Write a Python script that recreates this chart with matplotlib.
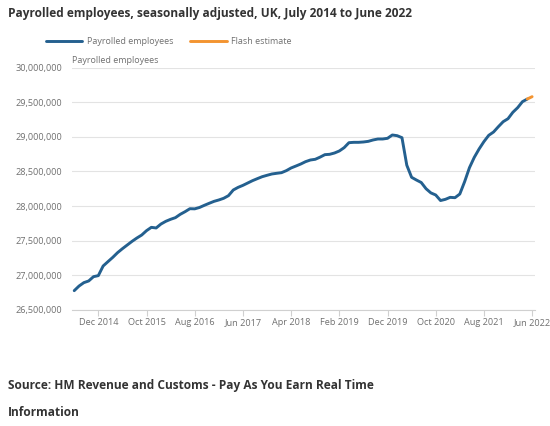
import matplotlib.pyplot as plt

# monthly payrolled employees, Jul 2014 .. Jun 2022 (millions)
payrolled = [
    26.779, 26.846, 26.895, 26.919, 26.981, 26.996, 27.135, 27.198, 27.260, 27.328,
    27.385, 27.438, 27.491, 27.539, 27.582, 27.645, 27.693, 27.684, 27.741, 27.780,
    27.809, 27.833, 27.881, 27.919, 27.962, 27.960, 27.980, 28.011, 28.040, 28.068,
    28.088, 28.112, 28.150, 28.232, 28.270, 28.299, 28.333, 28.367, 28.396, 28.424,
    28.444, 28.463, 28.473, 28.482, 28.511, 28.550, 28.578, 28.607, 28.641, 28.665,
    28.675, 28.706, 28.742, 28.747, 28.766, 28.795, 28.843, 28.915, 28.920, 28.920,
    28.925, 28.934, 28.954, 28.968, 28.968, 28.978, 29.026, 29.016, 28.987, 28.590,
    28.415, 28.376, 28.340, 28.250, 28.190, 28.160, 28.080, 28.097, 28.126, 28.121,
    28.174, 28.352, 28.554, 28.703, 28.824, 28.930, 29.021, 29.069, 29.146, 29.218,
    29.261, 29.353, 29.420, 29.507, 29.545,
]
flash = [29.545, 29.579]  # May 2022 -> Jun 2022 flash estimate

tick_idx = [5, 15, 25, 35, 45, 55, 65, 75, 85, 95]
tick_lbl = ['Dec 2014', 'Oct 2015', 'Aug 2016', 'Jun 2017', 'Apr 2018',
            'Feb 2019', 'Dec 2019', 'Oct 2020', 'Aug 2021', 'Jun 2022']
y_ticks = [26.5, 27.0, 27.5, 28.0, 28.5, 29.0, 29.5, 30.0]

blue = '#24608f'
orange = '#f39431'
grey = '#707070'

plt.rcParams['font.family'] = ['Open Sans', 'DejaVu Sans']

fig = plt.figure(figsize=(5.5, 4.26), dpi=100)
ax = fig.add_axes([72/550, 1 - 310/426, (535 - 72)/550, (310 - 67.5)/426])

x = list(range(len(payrolled)))
ax.plot(x, [v * 1e6 for v in payrolled], color=blue, lw=2.1, solid_capstyle='round',
        label='Payrolled employees')
ax.plot([len(payrolled) - 1, len(payrolled)], [v * 1e6 for v in flash], color=orange,
        lw=2.1, solid_capstyle='round', label='Flash estimate')

ax.set_xlim(-0.46, 95.6)
ax.set_ylim(26.5e6, 30e6)
ax.set_yticks([v * 1e6 for v in y_ticks])
ax.set_yticklabels(['{:,}'.format(int(round(v * 1e6))) for v in y_ticks])
ax.set_xticks(tick_idx)
ax.set_xticklabels(tick_lbl)

ax.grid(axis='y', color='#e3e3e3', lw=0.8)
ax.set_axisbelow(True)
for s in ['top', 'right', 'left']:
    ax.spines[s].set_visible(False)
ax.spines['bottom'].set_color('#d0d0d0')
ax.spines['bottom'].set_linewidth(0.8)
ax.tick_params(axis='y', length=0, pad=7, labelsize=6.6, labelcolor=grey)
ax.tick_params(axis='x', length=4, color='#d0d0d0', width=0.8, pad=2,
               labelsize=6.6, labelcolor=grey)

ax.text(0.0, 1.012, 'Payrolled employees', transform=ax.transAxes,
        fontsize=6.5, color=grey, ha='left', va='bottom')

fig.text(8/550, 1 - 13/426, 'Payrolled employees, seasonally adjusted, UK, July 2014 to June 2022',
         fontsize=8.6, fontweight='bold', color='#333333', ha='left', va='center')

leg = fig.legend(loc='center left', bbox_to_anchor=(38/550, 1 - 42/426), ncol=2,
                 frameon=False, fontsize=6.5, handlelength=4.0, columnspacing=1.9,
                 handletextpad=0.5)
for t in leg.get_texts():
    t.set_color(grey)

fig.text(8/550, 1 - 385/426, 'Source: HM Revenue and Customs - Pay As You Earn Real Time',
         fontsize=8.6, fontweight='bold', color='#333333', ha='left', va='center')
fig.text(8/550, 1 - 413/426, 'Information',
         fontsize=8.6, fontweight='bold', color='#333333', ha='left', va='center')

fig.savefig('out.png', dpi=100, facecolor='white')
